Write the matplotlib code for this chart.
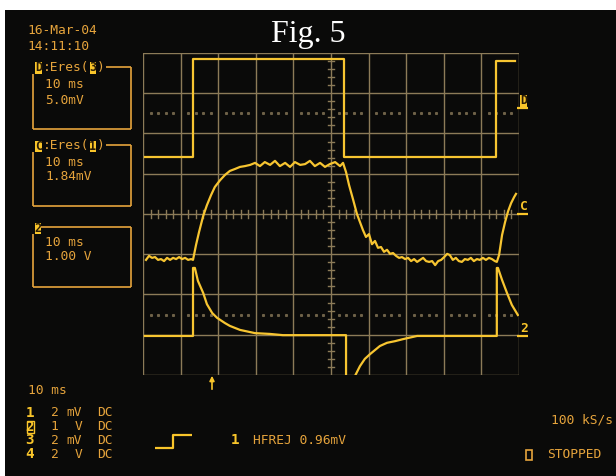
import matplotlib
matplotlib.use("Agg")
import matplotlib.pyplot as plt
from matplotlib.lines import Line2D
from matplotlib.patches import Rectangle

# ---------------- trace data (time in ms, amplitude in screen divisions) ----------------
trace_d_t = [0.5, 13.3, 13.3, 53.5, 53.5, 93.9, 93.9, 98.9]
trace_d_v = [1.42, 1.42, 3.84, 3.84, 1.42, 1.42, 3.80, 3.80]

trace_c_t = [0.8, 1.6, 2.4, 3.2, 4.0, 4.8, 5.6, 6.4, 7.2, 8.0, 8.8, 9.6, 10.4, 11.2,
             12.0, 12.8, 13.3, 14.1, 14.9, 16.0, 17.0, 18.1, 19.1, 20.5, 21.8, 23.1,
             24.5, 25.8, 27.1, 28.5, 29.8, 31.1, 32.4, 33.8, 35.1, 36.4, 37.8, 39.1,
             40.4, 41.8, 43.1, 44.4, 45.7, 47.1, 48.4, 49.7, 51.1, 52.4, 53.2, 54.0,
             54.8, 55.9, 56.9, 57.7, 58.5, 59.3, 60.1, 60.9, 61.7, 62.5, 63.3, 64.1,
             64.9, 65.7, 66.5, 67.3, 68.1, 68.9, 69.7, 70.5, 71.3, 72.1, 72.9, 73.7,
             74.5, 75.3, 76.1, 76.9, 77.7, 78.5, 79.3, 80.1, 80.9, 81.6, 82.4, 83.2,
             84.0, 84.8, 85.6, 86.4, 87.2, 88.0, 88.8, 89.6, 90.4, 91.2, 92.0, 92.8,
             93.6, 94.1, 94.7, 95.5, 96.3, 97.1, 97.9, 98.7, 99.2]
trace_c_v = [-1.14, -1.04, -1.09, -1.07, -1.14, -1.12, -1.17, -1.09, -1.14, -1.09,
             -1.12, -1.07, -1.12, -1.09, -1.14, -1.12, -1.14, -0.77, -0.45, -0.05,
             0.22, 0.47, 0.67, 0.84, 0.97, 1.07, 1.12, 1.17, 1.19, 1.22, 1.27, 1.19,
             1.29, 1.22, 1.32, 1.19, 1.27, 1.17, 1.29, 1.22, 1.24, 1.32, 1.19, 1.27,
             1.17, 1.24, 1.29, 1.19, 1.27, 1.04, 0.72, 0.35, 0.00, -0.20, -0.40,
             -0.57, -0.50, -0.75, -0.67, -0.84, -0.82, -0.94, -0.89, -0.99, -0.97,
             -1.04, -1.09, -1.07, -1.12, -1.09, -1.17, -1.12, -1.19, -1.14, -1.09,
             -1.17, -1.19, -1.17, -1.27, -1.17, -1.14, -1.07, -0.99, -1.02, -1.14,
             -1.09, -1.17, -1.19, -1.12, -1.14, -1.09, -1.17, -1.12, -1.14, -1.09,
             -1.14, -1.09, -1.12, -1.17, -1.19, -1.02, -0.52, -0.20, 0.07, 0.27,
             0.42, 0.50]

trace_2_t = [0.5, 13.3, 13.3, 13.8, 14.6, 16.0, 17.0, 18.4, 19.7, 21.8, 23.1, 25.8,
             29.8, 33.8, 37.2, 41.8, 53.7, 54.0, 54.0, 55.1, 56.4, 57.7, 59.0, 60.4,
             61.7, 63.0, 64.9, 67.0, 69.1, 72.9, 79.0, 94.1, 94.1, 94.4, 95.5, 96.8,
             98.1, 99.7]
trace_2_v = [-3.03, -3.03, -1.34, -1.34, -1.66, -1.96, -2.24, -2.46, -2.58, -2.71,
             -2.78, -2.88, -2.96, -2.98, -3.01, -3.01, -3.01, -3.01, -4.62, -4.50,
             -4.02, -3.78, -3.60, -3.48, -3.38, -3.28, -3.20, -3.16, -3.11, -3.03,
             -3.03, -3.03, -1.34, -1.34, -1.64, -1.96, -2.26, -2.51]

# ---------------- readout texts ----------------
date_lines = ["16-Mar-04", "14:11:10"]
box_d_rows = ["10 ms", "5.0mV"]
box_c_rows = ["10 ms", "1.84mV"]
box_2_rows = ["10 ms", "1.00 V"]
timebase = "10 ms"
chan_ids = ["1", "2", "3", "4"]
chan_vals = ["2", "1", "2", "2"]
chan_units = ["mV", "V", "mV", "V"]
chan_coupling = ["DC", "DC", "DC", "DC"]
trigger_text = "HFREJ 0.96mV"
sample_rate = "100 kS/s"
run_state = "STOPPED"
title = "Fig. 5"

# ---------------- styling ----------------
W, H = 616, 476
BG = "#0a0a09"
TRACE = "#f7c531"
GRID = "#8c7b58"
TXT = "#e6a43c"
HI = "#f9c52a"
MONO = "DejaVu Sans Mono"
FS = 9.3
CW = 0.602 * FS * 100 / 72  # monospace character advance in pixels

fig = plt.figure(figsize=(W / 100, H / 100), dpi=100, facecolor=BG)


def fx(x):
    return x / W


def fy(y):
    return 1 - y / H


def ftext(x, y, s, color=TXT, ha="left", va="center", weight="normal", size=FS,
          family=MONO, **kw):
    fig.text(fx(x), fy(y), s, color=color, ha=ha, va=va, fontweight=weight,
             fontsize=size, family=family, **kw)


def fline(xs, ys, color=TXT, lw=1.2):
    fig.add_artist(Line2D([fx(v) for v in xs], [fy(v) for v in ys],
                          transform=fig.transFigure, color=color, lw=lw,
                          solid_capstyle="butt"))


def tag(x, y, s, w=7, h=11):
    """Letter drawn inside a filled highlight block (x is the block's left edge)."""
    fig.add_artist(Rectangle((fx(x), fy(y + h / 2)), w / W, h / H,
                             transform=fig.transFigure, facecolor=HI,
                             edgecolor="none"))
    ftext(x + w / 2, y, s, color="#2a1c05", ha="center", weight="bold",
          size=FS - 0.8)


def box_label(x, y, first, middle, second):
    """Readout header like 'D:Eres(3)'; returns x where the header ends."""
    tag(x, y, first)
    x += CW
    ftext(x, y, middle)
    x += CW * len(middle)
    tag(x + 0.5, y, second, w=6)
    x += CW
    ftext(x, y, ")")
    return x + CW


# white border strips of the scanned page
fig.add_artist(Rectangle((0, fy(10)), 1, 10 / H, transform=fig.transFigure,
                         facecolor="white", edgecolor="none"))
fig.add_artist(Rectangle((0, 0), 5 / W, 1, transform=fig.transFigure,
                         facecolor="white", edgecolor="none"))

# ---------------- graticule ----------------
left, right, top, bottom = 143, 519, 53, 375
ax = fig.add_axes([fx(left), fy(bottom), (right - left) / W, (bottom - top) / H])
ax.set_facecolor(BG)
ax.set_xlim(0, 100)
ax.set_ylim(-4, 4)
ax.set_axis_off()

for k in range(11):
    ax.axvline(k * 10, color=GRID, lw=1.0, zorder=1)
for k in range(9):
    ax.axhline(k - 4, color=GRID, lw=1.0, zorder=1)

# minor ticks along the centre cross
for k in range(50):
    xm = k * 2
    if xm % 10:
        ax.plot([xm, xm], [-0.1, 0.1], color=GRID, lw=1.0, zorder=1)
for k in range(40):
    ym = -4 + k * 0.2
    if abs(ym - round(ym)) > 1e-6:
        ax.plot([49.3, 50.7], [ym, ym], color=GRID, lw=1.0, zorder=1)

# dotted reference rows
for yr in (2.5, -2.5):
    xs = [k * 2 for k in range(51) if k % 5]
    ax.plot(xs, [yr] * len(xs), ls="none", marker="s", ms=1.2, color="#6e6148",
            zorder=1)

# ---------------- traces ----------------
for t, v in ((trace_d_t, trace_d_v), (trace_c_t, trace_c_v),
             (trace_2_t, trace_2_v)):
    ax.plot(t, v, color=TRACE, lw=1.6, zorder=3, solid_joinstyle="round")

# ---------------- right-hand channel markers ----------------
tag(520, 101, "D", w=7, h=12)
fline([517, 528], [108, 108], color=HI, lw=1.6)
ftext(524, 207, "C", color=HI, ha="center", weight="bold")
fline([517, 528], [213.5, 213.5], color=HI, lw=1.6)
ftext(524.5, 328, "2", color=HI, ha="center", weight="bold")
fline([517, 528], [336, 336], color=HI, lw=1.6)

# trigger position arrow
fig.add_artist(plt.Annotation("", xy=(fx(212), fy(373)), xytext=(fx(212), fy(392)),
                              xycoords=fig.transFigure, textcoords=fig.transFigure,
                              arrowprops=dict(arrowstyle="-|>", color=HI, lw=1.2,
                                              mutation_scale=7)))

# ---------------- title ----------------
fig.text(fx(308.5), fy(42), title, color="white", ha="center", va="baseline",
         fontsize=23, family="Liberation Serif")

# ---------------- left readouts ----------------
ftext(27, 31, date_lines[0])
ftext(27, 46, date_lines[1])

BX0, BX1 = 33, 131

# box D
xe = box_label(35, 68, "D", ":Eres(", "3")
fline([xe + 1, BX1], [67, 67])
fline([BX1, BX1], [67, 129])
fline([BX0, BX1], [129, 129])
fline([BX0, BX0], [74, 129])
ftext(45, 85, box_d_rows[0])
ftext(45, 101, box_d_rows[1])

# box C
xe = box_label(35, 146, "C", ":Eres(", "1")
fline([xe + 1, BX1], [145, 145])
fline([BX1, BX1], [145, 206])
fline([BX0, BX1], [206, 206])
fline([BX0, BX0], [152, 206])
ftext(45, 162, box_c_rows[0])
ftext(45, 177, box_c_rows[1])

# box 2
tag(34.5, 228, "2", w=6)
fline([41, BX1], [227, 227])
fline([BX1, BX1], [227, 287])
fline([BX0, BX1], [287, 287])
fline([BX0, BX0], [234, 287])
ftext(45, 243, box_2_rows[0])
ftext(45, 257, box_2_rows[1])

# ---------------- bottom readouts ----------------
ftext(28, 391, timebase)
rows_y = [413, 427, 440, 454]
for cid, val, unit, cpl, yy in zip(chan_ids, chan_vals, chan_units,
                                    chan_coupling, rows_y):
    if cid == "2":
        fig.add_artist(Rectangle((fx(26.5), fy(yy + 6)), 7 / W, 12 / H,
                                 transform=fig.transFigure, facecolor="none",
                                 edgecolor=HI, lw=1.0))
    ftext(30, yy, cid, color=HI, ha="center", weight="bold", size=FS + 1)
    ftext(54.5, yy, val, ha="center")
    ftext(82, yy, unit, ha="right")
    ftext(97, yy, cpl)

# trigger slope symbol and level
fline([155, 173, 173, 192], [448, 448, 435, 435], color=HI, lw=1.6)
ftext(235, 440, "1", color=HI, ha="center", weight="bold", size=FS + 1)
ftext(253, 440, trigger_text)

ftext(613, 420, sample_rate, ha="right")
fig.add_artist(Rectangle((fx(525.5), fy(460)), 6 / W, 10 / H,
                         transform=fig.transFigure, facecolor="none",
                         edgecolor=TXT, lw=1.2))
ftext(547, 455, run_state)

fig.savefig("out.png", dpi=100, facecolor=BG)
